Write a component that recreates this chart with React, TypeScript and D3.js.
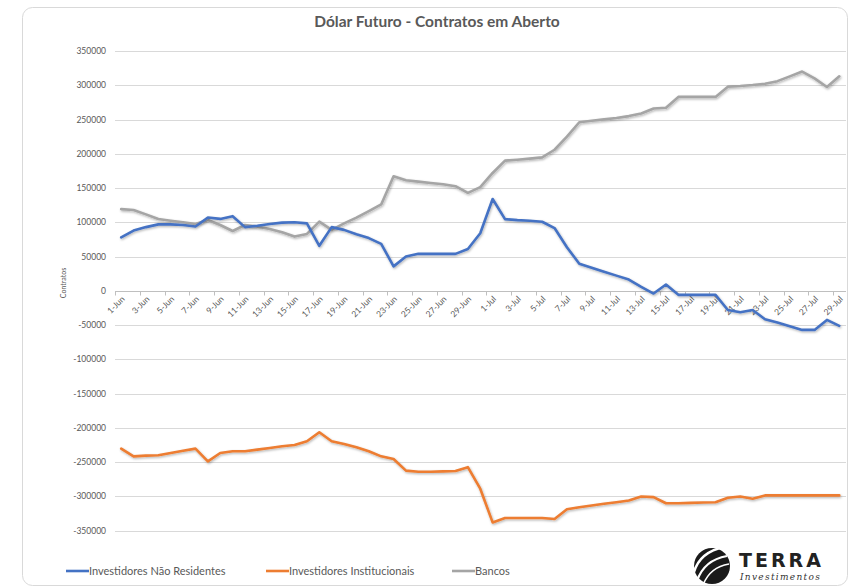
import React, { useEffect, useRef } from 'react'
import * as d3 from 'd3'

const days: string[] = [
  '1-Jun', '2-Jun', '3-Jun', '4-Jun', '5-Jun', '6-Jun', '7-Jun', '8-Jun', '9-Jun', '10-Jun',
  '11-Jun', '12-Jun', '13-Jun', '14-Jun', '15-Jun', '16-Jun', '17-Jun', '18-Jun', '19-Jun', '20-Jun',
  '21-Jun', '22-Jun', '23-Jun', '24-Jun', '25-Jun', '26-Jun', '27-Jun', '28-Jun', '29-Jun', '30-Jun',
  '1-Jul', '2-Jul', '3-Jul', '4-Jul', '5-Jul', '6-Jul', '7-Jul', '8-Jul', '9-Jul', '10-Jul',
  '11-Jul', '12-Jul', '13-Jul', '14-Jul', '15-Jul', '16-Jul', '17-Jul', '18-Jul', '19-Jul', '20-Jul',
  '21-Jul', '22-Jul', '23-Jul', '24-Jul', '25-Jul', '26-Jul', '27-Jul', '28-Jul', '29-Jul'
]

const naoResidentes: number[] = [
  78000, 88000, 93000, 97000, 97000, 96000, 94000, 107000, 105000, 109000,
  93000, 95000, 97500, 99500, 100000, 98500, 65700, 93000, 89000, 82600,
  77000, 68600, 35700, 50000, 54000, 54000, 54000, 54000, 61000, 84000,
  134000, 104600, 103200, 102200, 100800, 91600, 63600, 39500, 33700, 28000,
  22200, 16400, 5800, -3900, 9200, -5800, -5800, -5800, -5800, -28000,
  -31300, -28000, -41500, -46300, -51600, -57000, -57000, -42400, -51000
]

const institucionais: number[] = [
  -230200, -241500, -240500, -240000, -236600, -233200, -230200, -248800, -236600, -234100,
  -234100, -231700, -229300, -226800, -224900, -219500, -206300, -219500, -223400, -228300,
  -234100, -241500, -245400, -262400, -263900, -263900, -263400, -262900, -257300, -288700,
  -337900, -331500, -331500, -331500, -331500, -333000, -318700, -315800, -313300, -310800,
  -308400, -305900, -300000, -301000, -309900, -309900, -309400, -308900, -308400, -302000,
  -300000, -303400, -298500, -298500, -298500, -298500, -298500, -298500, -298500
]

const bancos: number[] = [
  119300, 117900, 111600, 104800, 102400, 100000, 97600, 103400, 96100, 87400,
  96100, 93700, 90300, 85500, 79200, 83100, 101000, 88900, 98500, 106800,
  116400, 126100, 167100, 161400, 159400, 157500, 155600, 152700, 143000, 151400,
  172000, 190000, 191400, 192900, 194800, 205900, 225200, 246000, 248300, 250200,
  252200, 255000, 258900, 266000, 267100, 283000, 283000, 283000, 283000, 298000,
  299000, 300400, 302300, 306000, 313000, 320000, 310000, 297500, 313000
]

const yTicks: number[] = [
  350000, 300000, 250000, 200000, 150000, 100000, 50000, 0,
  -50000, -100000, -150000, -200000, -250000, -300000, -350000
]

const seriesNames: string[] = ['Investidores Não Residentes', 'Investidores Institucionais', 'Bancos']
const seriesColors: string[] = ['#4472C4', '#ED7D31', '#A5A5A5']

const FONT = 'Lato, "Open Sans", sans-serif'
const TEXT = '#595959'

const App: React.FC = () => {
  const svgRef = useRef<SVGSVGElement>(null)

  useEffect(() => {
    if (!svgRef.current) return
    const svg = d3.select(svgRef.current)
    svg.selectAll('*').remove()

    const width = 853
    const height = 588
    svg.attr('width', width).attr('height', height)

    const defs = svg.append('defs')
    const f = defs.append('filter').attr('id', 'shadow')
      .attr('x', '-5%').attr('y', '-5%').attr('width', '110%').attr('height', '110%')
    f.append('feDropShadow')
      .attr('dx', 0.8).attr('dy', 1.2).attr('stdDeviation', 1.1)
      .attr('flood-color', '#000').attr('flood-opacity', 0.3)

    // card
    svg.append('rect')
      .attr('x', 22.5).attr('y', 7.5)
      .attr('width', 825).attr('height', 578)
      .attr('rx', 10)
      .attr('fill', '#fff')
      .attr('stroke', '#d9d9d9')

    // title
    svg.append('text')
      .attr('x', 437).attr('y', 27)
      .attr('text-anchor', 'middle')
      .style('font-family', FONT)
      .style('font-size', '15.5px')
      .style('font-weight', 'bold')
      .style('fill', TEXT)
      .text('Dólar Futuro - Contratos em Aberto')

    const x = d3.scaleBand<string>().domain(days).range([115, 845.5]).padding(0)
    const bw = x.bandwidth()
    const cx = (i: number) => (x(days[i]) as number) + bw / 2
    const y = d3.scaleLinear().domain([-350000, 350000]).range([530.7, 51])

    // gridlines
    svg.append('g')
      .selectAll('line')
      .data(yTicks.filter(t => t !== 0))
      .enter()
      .append('line')
      .attr('x1', 115).attr('x2', 846)
      .attr('y1', d => Math.round(y(d)) + 0.5)
      .attr('y2', d => Math.round(y(d)) + 0.5)
      .attr('stroke', '#d9d9d9')
      .attr('stroke-width', 1)

    // y labels
    svg.append('g')
      .selectAll('text')
      .data(yTicks)
      .enter()
      .append('text')
      .attr('x', 106)
      .attr('y', d => y(d))
      .attr('dy', '0.35em')
      .attr('text-anchor', 'end')
      .style('font-family', FONT)
      .style('font-size', '8.5px')
      .style('fill', TEXT)
      .text(d => String(d))

    svg.append('text')
      .attr('transform', `translate(66, 283) rotate(-90)`)
      .attr('text-anchor', 'middle')
      .style('font-family', FONT)
      .style('font-size', '7px')
      .style('fill', TEXT)
      .text('Contratos')

    // x axis
    const y0 = Math.round(y(0)) + 0.5
    svg.append('line')
      .attr('x1', 115).attr('x2', 846)
      .attr('y1', y0).attr('y2', y0)
      .attr('stroke', '#bfbfbf')

    const tickIdx = days.map((_, i) => i).filter(i => i % 2 === 0)
    svg.append('g')
      .selectAll('line')
      .data(tickIdx)
      .enter()
      .append('line')
      .attr('x1', i => Math.round(x(days[i]) as number) + 0.5)
      .attr('x2', i => Math.round(x(days[i]) as number) + 0.5)
      .attr('y1', y0).attr('y2', y0 + 4)
      .attr('stroke', '#bfbfbf')

    svg.append('g')
      .selectAll('text')
      .data(tickIdx)
      .enter()
      .append('text')
      .attr('transform', i => `translate(${cx(i) + 2}, ${y0 + 6}) rotate(-45)`)
      .attr('text-anchor', 'end')
      .attr('dy', '0.35em')
      .style('font-family', FONT)
      .style('font-size', '8.5px')
      .style('fill', TEXT)
      .text(i => days[i])

    // lines
    const line = d3.line<number>()
      .x((_, i) => cx(i))
      .y(d => y(d))

    const allSeries = [naoResidentes, institucionais, bancos]
    const order = [2, 0, 1]
    order.forEach(k => {
      svg.append('path')
        .datum(allSeries[k])
        .attr('d', line)
        .attr('fill', 'none')
        .attr('stroke', seriesColors[k])
        .attr('stroke-width', 2.6)
        .attr('stroke-linejoin', 'round')
        .attr('stroke-linecap', 'round')
        .attr('filter', 'url(#shadow)')
    })

    // legend
    const legendX = [66, 266, 452]
    const lg = svg.append('g')
    seriesNames.forEach((name, k) => {
      lg.append('line')
        .attr('x1', legendX[k]).attr('x2', legendX[k] + 23)
        .attr('y1', 571).attr('y2', 571)
        .attr('stroke', seriesColors[k])
        .attr('stroke-width', 2.6)
      lg.append('text')
        .attr('x', legendX[k] + 23)
        .attr('y', 571)
        .attr('dy', '0.35em')
        .style('font-family', FONT)
        .style('font-size', '11px')
        .style('fill', TEXT)
        .text(name)
    })

    // TERRA logo
    const logo = svg.append('g')
    logo.append('circle')
      .attr('cx', 712).attr('cy', 566).attr('r', 18)
      .attr('fill', '#1a1a1a')
    logo.append('path')
      .attr('d', 'M694,572 Q700,552 724,547')
      .attr('fill', 'none').attr('stroke', '#fff').attr('stroke-width', 2.5)
    logo.append('path')
      .attr('d', 'M697,581 Q704,560 727,556')
      .attr('fill', 'none').attr('stroke', '#fff').attr('stroke-width', 2.2)
    logo.append('path')
      .attr('d', 'M703,585 Q710,567 729,564')
      .attr('fill', 'none').attr('stroke', '#fff').attr('stroke-width', 1.5)
    logo.append('text')
      .attr('x', 739).attr('y', 567)
      .style('font-family', '"DejaVu Sans", sans-serif')
      .style('font-size', '19px')
      .style('font-weight', 'bold')
      .style('letter-spacing', '3px')
      .style('fill', '#222')
      .text('TERRA')
    logo.append('text')
      .attr('x', 740).attr('y', 580)
      .style('font-family', '"DejaVu Serif", serif')
      .style('font-size', '9px')
      .style('font-style', 'italic')
      .style('letter-spacing', '1.3px')
      .style('fill', '#333')
      .text('Investimentos')
  }, [])

  return (
    <div style={{ position: 'absolute', left: 0, top: 0 }}>
      <svg ref={svgRef} style={{ display: 'block' }}></svg>
    </div>
  )
}

export default App
